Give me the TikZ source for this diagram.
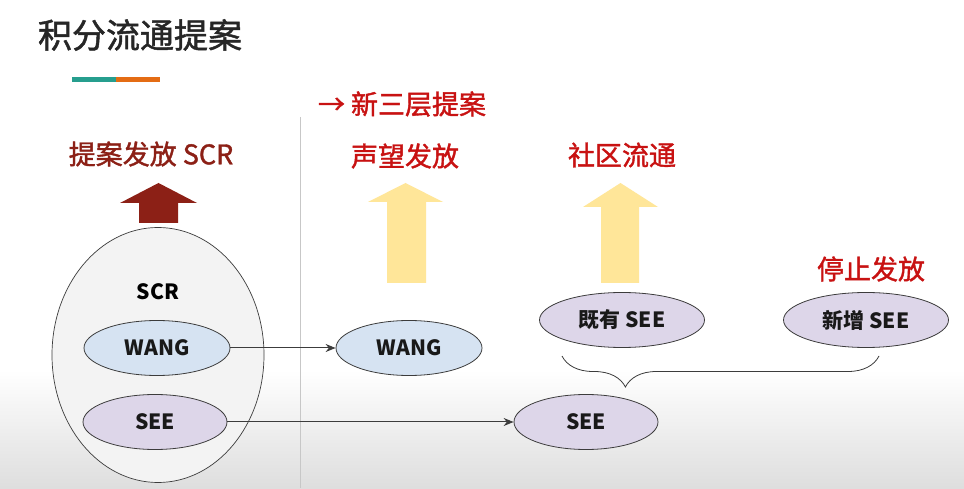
\documentclass[tikz,border=0pt]{standalone}
\usepackage{fontspec}
\setmainfont{Noto Sans CJK SC}
\newfontfamily\medfont{Noto Sans CJK SC}[FakeBold=1.4]
\usetikzlibrary{shapes.geometric,arrows.meta,decorations.pathreplacing}
\definecolor{barteal}{RGB}{38,158,142}
\definecolor{barorange}{RGB}{228,108,20}
\definecolor{headred}{RGB}{200,18,18}
\definecolor{headbrown}{RGB}{140,32,22}
\definecolor{upyellow}{RGB}{255,230,153}
\definecolor{wangblue}{RGB}{214,227,242}
\definecolor{seelilac}{RGB}{221,214,233}
\definecolor{poolgray}{RGB}{243,243,243}
\definecolor{linkgray}{RGB}{60,60,60}
\begin{document}
\begin{tikzpicture}[x=1pt,y=-1pt,
  ovaldecorate/.style={shape=ellipse,draw=linkgray,line width=0.8pt,inner sep=0pt,
    font=\fontsize{21}{21}\selectfont\bfseries,text=black!90},
  arrowdecorate/.style={-{Stealth[length=10pt,width=8pt]},draw=linkgray,line width=1pt},
  headdecorate/.style={inner sep=0pt,font=\fontsize{27}{27}\selectfont\medfont}]
%% page and background
\fill[white] (0,0) rectangle (964,488);
\shade[top color=white,bottom color=black!13] (0,370) rectangle (964,488);
\draw[black!22,line width=1pt] (300,117) -- (300,488);
%% title
\node[inner sep=0pt,font=\fontsize{34}{34}\selectfont\medfont,text=black!85] (title) at (140,35) {积分流通提案};
\fill[barteal] (72,77.5) rectangle (116,82.5);
\fill[barorange] (116,77.5) rectangle (160,82.5);
%% headings
\foreach \nodename/\x/\y/\col/\txt in {
  newlayer/402/104/headred/→ 新三层提案, scrhead/151/154/headbrown/提案发放 SCR,
  fame/405/156/headred/声望发放, community/622/155/headred/社区流通,
  stop/871/269/headred/停止发放} {
  \node[headdecorate,text=\col] (\nodename) at (\x,\y) {\txt};
}
%% up arrows
\foreach \xl/\xr/\hl/\hr/\tip/\neck/\bot/\col in {
  139/178/120/197/183/203/223/headbrown, 387/426/368/443/183/202/283/upyellow,
  601/639/583/658/183/207/283/upyellow} {
  \fill[\col] (\xl,\bot) -- (\xl,\neck) -- (\hl,\neck) -- ({(\hl+\hr)/2},\tip)
    -- (\hr,\neck) -- (\xr,\neck) -- (\xr,\bot) -- cycle;
}
%% nodes
\node[ovaldecorate,fill=poolgray,line width=0.7pt,minimum width=212pt,minimum height=255pt] (pool) at (158,355) {};
\node[inner sep=0pt,font=\fontsize{21}{21}\selectfont\bfseries] (scr) at (158,292) {SCR};
\foreach \nodename/\x/\y/\w/\col/\txt in {
  wangA/157/348/146/wangblue/WANG, seeA/155/422/144/seelilac/SEE,
  wangB/409/348/146/wangblue/WANG, seeB/586/422/144/seelilac/SEE,
  oldsee/622/320/165/seelilac/既有 SEE, newsee/866/320/165/seelilac/新增 SEE} {
  \node[ovaldecorate,fill=\col,minimum width=\w pt,minimum height=55pt] (\nodename) at (\x,\y) {\txt};
}
%% edges
\path
\foreach \startnode/\endnode in {wangA/wangB, seeA/seeB} {
  (\startnode.east) edge[arrowdecorate] (\endnode.west)
};
%% brace
\coordinate (braceR) at (879,356);
\coordinate (braceL) at (562,356);
\draw[linkgray,line width=0.8pt,decorate,decoration={brace,amplitude=31pt,aspect=0.8}] (braceR) -- (braceL);
\end{tikzpicture}
\end{document}
